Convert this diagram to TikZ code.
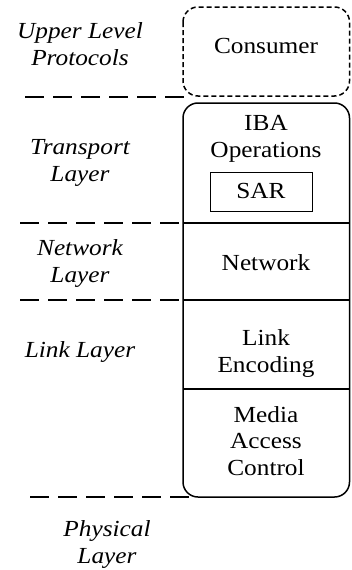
\documentclass[tikz,border=0pt]{standalone}
\usepackage{fontspec}
\setmainfont{Liberation Serif}[FakeStretch=1.1]
\begin{document}
\begin{tikzpicture}[x=1pt,y=-1pt,
  lbl/.style={font=\fontsize{23}{26.5}\selectfont, align=center, inner sep=0pt, anchor=base},
  ilbl/.style={lbl, font=\fontsize{23}{26.5}\selectfont\itshape},
  sep/.style={line width=2.3pt, dash pattern=on 19pt off 9pt},
  frame/.style={line width=1.5pt, rounded corners=15pt},
  divider/.style={line width=1.5pt}]
\useasboundingbox (0,0) rectangle (351,570);
% boxes
\draw[frame, dash pattern=on 5pt off 3pt] (183,7) rectangle (349.5,96);
\draw[frame] (183,103) rectangle (349.5,497);
\draw[line width=1pt] (210,172) rectangle (312,211);
% dividers
\coordinate (d1l) at (183,223); \coordinate (d1r) at (349.5,223);
\coordinate (d2l) at (183,300); \coordinate (d2r) at (349.5,300);
\coordinate (d3l) at (183,389); \coordinate (d3r) at (349.5,389);
\draw[divider] (d1l) -- (d1r);
\draw[divider] (d2l) -- (d2r);
\draw[divider] (d3l) -- (d3r);
% dashed separators
\coordinate (s0a) at (25,97);  \coordinate (s0b) at (186,97);
\coordinate (s1a) at (20,223);
\coordinate (s2a) at (20,300);
\coordinate (s3a) at (30,497); \coordinate (s3b) at (192,497);
\draw[sep] (s0a) -- (s0b);
\draw[sep] (s1a) -- (d1l);
\draw[sep] (s2a) -- (d2l);
\draw[sep] (s3a) -- (s3b);
% right texts (anchor = baseline of last line)
\node[lbl] (consumer) at (266,53) {Consumer};
\node[lbl] (iba) at (266,157) {IBA\\Operations};
\node[lbl] (sar) at (261,198) {SAR};
\node[lbl] (network) at (266,270) {Network};
\node[lbl] (link) at (266,372) {Link\\Encoding};
\node[lbl] (mac) at (266,475) {Media\\Access\\Control};
% left texts
\node[ilbl] (ulp) at (80,65) {Upper Level\\Protocols};
\node[ilbl] (tl) at (80,181) {Transport\\Layer};
\node[ilbl] (nl) at (80,282) {Network\\Layer};
\node[ilbl] (ll) at (80,357) {Link Layer};
\node[ilbl] (pl) at (107,563) {Physical\\Layer};
\end{tikzpicture}
\end{document}
